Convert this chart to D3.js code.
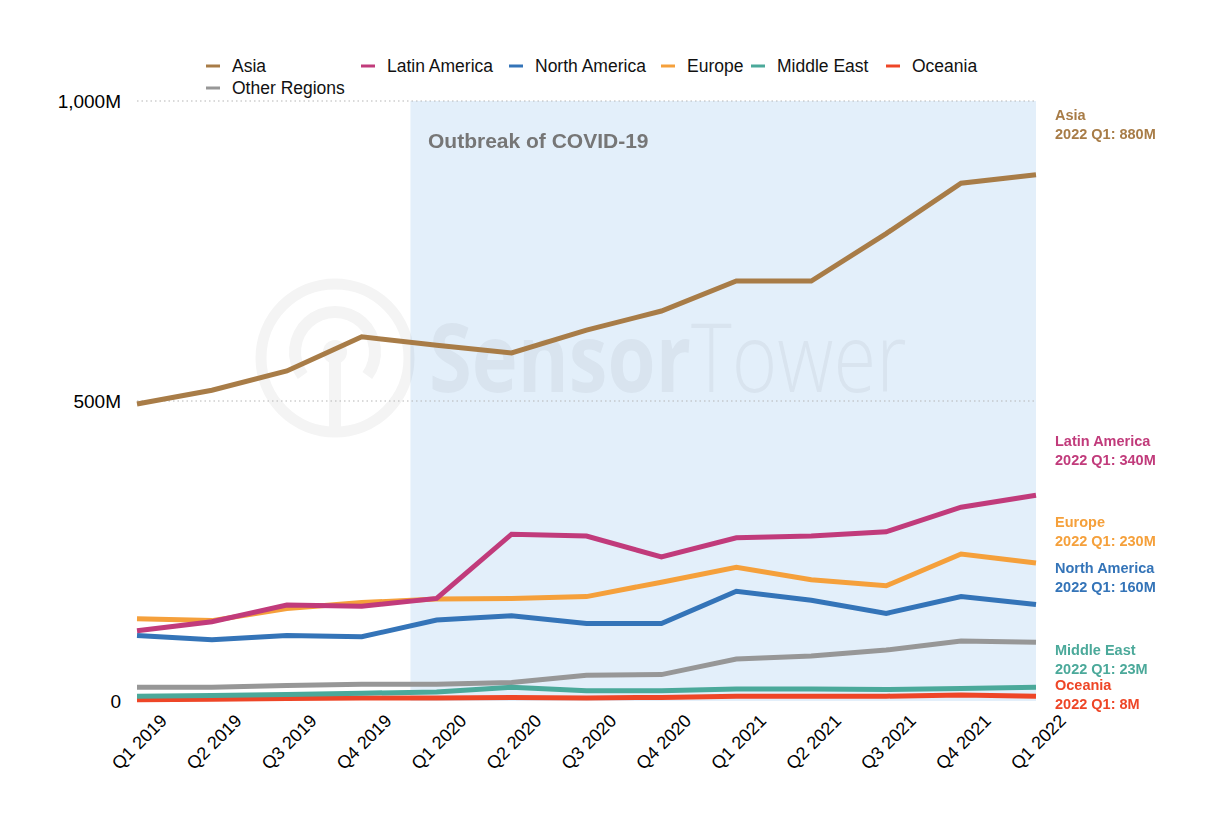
<!DOCTYPE html>
<html>
<head>
<meta charset="utf-8">
<script src="https://cdn.jsdelivr.net/npm/d3@7"></script>
<style>
  html, body { margin: 0; padding: 0; background: #fff; }
  svg { display: block; font-family: "Liberation Sans", Arial, Helvetica, sans-serif; }
</style>
</head>
<body>
<svg id="chart" width="1220" height="840"></svg>
<script>
// ---------------- DATA ----------------
const quarters = ["Q1 2019","Q2 2019","Q3 2019","Q4 2019","Q1 2020","Q2 2020","Q3 2020",
                  "Q4 2020","Q1 2021","Q2 2021","Q3 2021","Q4 2021","Q1 2022"];
const seriesNames = ["Asia","Latin America","North America","Europe","Middle East","Oceania","Other Regions"];
const seriesColors = ["#a87c47","#c13b7b","#3474b8","#f5a03b","#4ba99a","#ee4627","#979797"];
// values in millions
const asia          = [495, 518, 550, 607, 593, 580, 618, 650, 700, 700, 779, 863, 877];
const latinAmerica  = [117, 132, 160, 158, 171, 278, 275, 240, 272, 275, 282, 323, 343];
const northAmerica  = [109, 102, 109, 107, 135, 142, 129, 129, 183, 168, 146, 174, 161];
const europe        = [137, 134, 154, 164, 170, 171, 174, 198, 223, 202, 192, 245, 230];
const middleEast    = [8, 9, 11, 13, 15, 23, 17, 17, 20, 20, 19, 21, 23];
const oceania       = [2, 3, 4, 5, 5, 6, 5, 6, 8, 8, 8, 10, 8];
const otherRegions  = [23, 23, 26, 28, 28, 31, 43, 44, 70, 75, 85, 100, 98];
const seriesValues  = [asia, latinAmerica, northAmerica, europe, middleEast, oceania, otherRegions];
const endLabelNames  = ["Asia","Latin America","Europe","North America","Middle East","Oceania"];
const endLabelValues = ["2022 Q1: 880M","2022 Q1: 340M","2022 Q1: 230M","2022 Q1: 160M","2022 Q1: 23M","2022 Q1: 8M"];
const yTicks = [0, 500, 1000];
const yTickLabels = ["0", "500M", "1,000M"];
const covidStart = 3.65;            // quarter index where the shaded band begins
const annotationText = "Outbreak of COVID-19";

// ---------------- LAYOUT ----------------
const svg = d3.select("#chart");
const x = d3.scaleLinear().domain([0, quarters.length - 1]).range([137, 1036]);
const y = d3.scaleLinear().domain([0, 1000]).range([701, 101]);
const colorOf = d3.scaleOrdinal().domain(seriesNames).range(seriesColors);

// shaded band
svg.append("rect")
  .attr("x", x(covidStart)).attr("y", y(1000))
  .attr("width", x(quarters.length - 1) - x(covidStart))
  .attr("height", y(0) - y(1000))
  .attr("fill", "#e3effa");

// watermark
const wm = svg.append("g").attr("opacity", 0.045).attr("fill", "#000").attr("stroke", "#000");
wm.append("circle").attr("cx", 335).attr("cy", 358).attr("r", 74).attr("fill", "none").attr("stroke-width", 11);
wm.append("path").attr("d", d3.arc()({innerRadius: 34, outerRadius: 46, startAngle: -2.2, endAngle: 2.2}))
  .attr("transform", "translate(335,352)").attr("stroke", "none");
wm.append("circle").attr("cx", 335).attr("cy", 352).attr("r", 12).attr("stroke", "none");
wm.append("rect").attr("x", 329).attr("y", 360).attr("width", 12).attr("height", 72).attr("stroke", "none");
const wmt = wm.append("text").attr("transform", "translate(429,392) scale(0.81,1)").attr("stroke", "none")
  .style("font-family", "'Open Sans', 'DejaVu Sans', sans-serif").style("font-size", "96px");
wmt.append("tspan").attr("font-weight", 700).text("Sensor");
wmt.append("tspan").attr("font-weight", 300).text("Tower");

// gridlines
svg.append("g").selectAll("line").data(yTicks.filter(d => d > 0)).join("line")
  .attr("x1", x(0)).attr("x2", x(quarters.length - 1))
  .attr("y1", d => y(d)).attr("y2", d => y(d))
  .attr("stroke", "#b5b5b5").attr("stroke-width", 1.2).attr("stroke-dasharray", "1.5,3");

// annotation
svg.append("text").attr("x", 428).attr("y", 148)
  .attr("fill", "#767676").attr("font-weight", 700).style("font-size", "21px")
  .text(annotationText);

// y axis
const yAxis = svg.append("g").attr("transform", "translate(121,0)")
  .call(d3.axisLeft(y).tickValues(yTicks).tickSize(0)
        .tickFormat(d => yTickLabels[yTicks.indexOf(d)]));
yAxis.select(".domain").remove();
yAxis.selectAll("text").attr("fill", "#000").style("font-size", "19px")
  .style("font-family", "'Liberation Sans', Arial, sans-serif").attr("x", 0).attr("dy", "0.35em");

// x axis
const xAxis = svg.append("g")
  .call(d3.axisBottom(x).tickValues(d3.range(quarters.length)).tickSize(0).tickFormat(i => quarters[i]));
xAxis.select(".domain").remove();
xAxis.selectAll(".tick").attr("transform", d => `translate(${x(d) + 31},722)`);
xAxis.selectAll("text").attr("fill", "#000").style("font-size", "18px")
  .style("font-family", "'Liberation Sans', Arial, sans-serif")
  .attr("y", 0).attr("dy", 0).attr("text-anchor", "end").attr("transform", "rotate(-45)");

// lines
const line = d3.line().x((d, i) => x(i)).y(d => y(d));
const order = d3.range(seriesNames.length).reverse();
svg.append("g").selectAll("path").data(order).join("path")
  .attr("d", k => line(seriesValues[k]))
  .attr("fill", "none").attr("stroke", k => colorOf(seriesNames[k]))
  .attr("stroke-width", 5).attr("stroke-linejoin", "miter").attr("stroke-linecap", "butt");

// legend
const legendItems = [
  {k: 0, x: 206, y: 66}, {k: 1, x: 361, y: 66}, {k: 2, x: 509, y: 66}, {k: 3, x: 661, y: 66},
  {k: 4, x: 751, y: 66}, {k: 5, x: 886, y: 66}, {k: 6, x: 206, y: 88}
];
const lg = svg.append("g").selectAll("g").data(legendItems).join("g")
  .attr("transform", d => `translate(${d.x},${d.y})`);
lg.append("line").attr("x1", 0).attr("x2", 14).attr("y1", 0).attr("y2", 0)
  .attr("stroke", d => colorOf(seriesNames[d.k])).attr("stroke-width", 3);
lg.append("text").attr("x", 26).attr("y", 0).attr("dy", "0.35em")
  .style("font-size", "17.5px").attr("fill", "#111").text(d => seriesNames[d.k]);

// end labels
const endLabelY = [120, 446, 527, 573, 655, 690];
const el = svg.append("g").selectAll("text").data(endLabelNames).join("text")
  .attr("x", 1055).attr("y", (d, i) => endLabelY[i])
  .attr("fill", d => colorOf(d)).attr("font-weight", 700).style("font-size", "14.5px");
el.append("tspan").attr("x", 1055).text(d => d);
el.append("tspan").attr("x", 1055).attr("dy", 18.5).text((d, i) => endLabelValues[i]);
</script>
</body>
</html>
